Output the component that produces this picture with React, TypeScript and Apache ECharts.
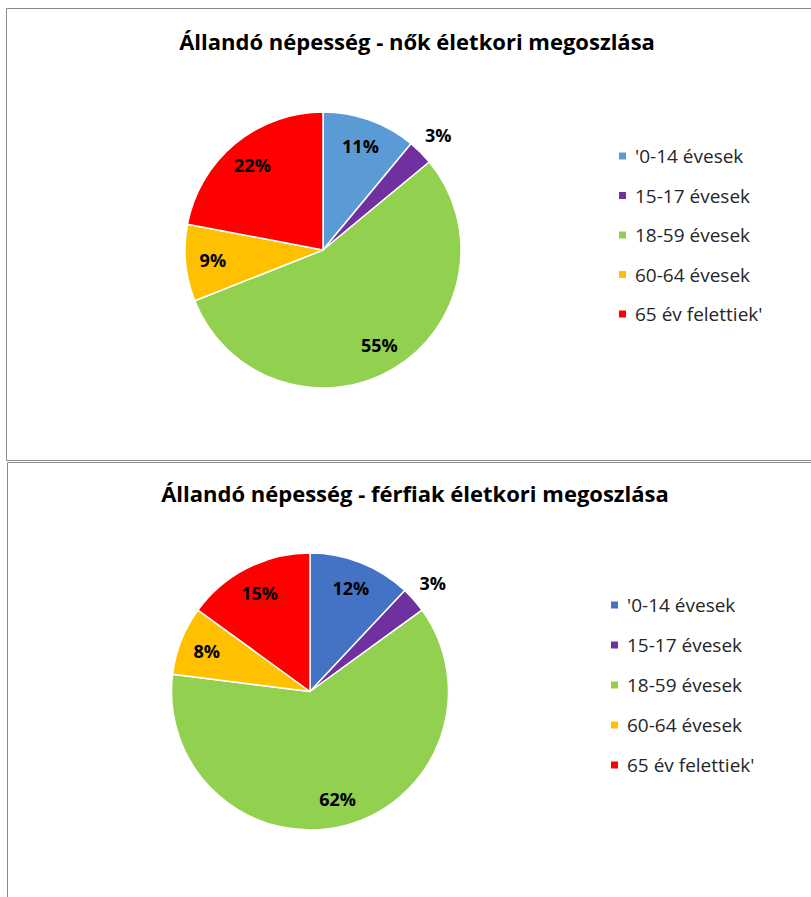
import React, { useEffect, useRef } from "react";
import * as echarts from "echarts";

const categories = ["'0-14 évesek", "15-17 évesek", "18-59 évesek", "60-64 évesek", "65 év felettiek'"];
const womenValues = [11, 3, 55, 9, 22];
const menValues = [12, 3, 62, 8, 15];
const womenTitle = "Állandó népesség - nők életkori megoszlása";
const menTitle = "Állandó népesség - férfiak életkori megoszlása";
const womenColors = ["#5B9BD5", "#7030A0", "#92D050", "#FFC000", "#FF0000"];
const menColors = ["#4472C4", "#7030A0", "#92D050", "#FFC000", "#FF0000"];
const outsideIndex = 1;

const FONT = "'Open Sans', 'Noto Sans', sans-serif";

type Geo = {
  cx: number; cy: number; r: number;
  titleX: number; titleY: number;
  legendX: number; legendY: number; legendGap: number;
  border: { x: number; y: number; w: number; h: number };
};

function makeOption(title: string, values: number[], colors: string[], g: Geo): any {
  const data = categories.map((name, i) => ({ name, value: values[i] }));
  const fmt = (p: any) => Math.round(p.percent) + "%";
  const labelStyle = { color: "#000", fontFamily: FONT, fontWeight: "bold", fontSize: 18 };
  return {
    animation: false,
    color: colors,
    title: {
      text: title,
      left: g.titleX,
      top: g.titleY,
      textAlign: "center",
      padding: 0,
      textStyle: { fontFamily: FONT, fontWeight: "bold", fontSize: 22, color: "#000" },
    },
    legend: {
      orient: "vertical",
      left: g.legendX,
      top: g.legendY,
      padding: 0,
      itemWidth: 9,
      itemHeight: 9,
      itemGap: g.legendGap,
      icon: "rect",
      selectedMode: false,
      data: categories,
      textStyle: { fontFamily: FONT, fontSize: 19, color: "#262626", lineHeight: 20, padding: [0, 0, 0, 3] },
    },
    graphic: [
      {
        type: "rect",
        shape: { x: g.border.x, y: g.border.y, width: g.border.w, height: g.border.h },
        style: { fill: "none", stroke: "#8a8a8a", lineWidth: 1 },
        silent: true,
      },
    ],
    series: [
      {
        type: "pie",
        center: [g.cx, g.cy],
        radius: [0, g.r],
        startAngle: 90,
        clockwise: true,
        silent: true,
        label: { show: false },
        labelLine: { show: false },
        itemStyle: { borderColor: "#fff", borderWidth: 1.5 },
        data: data.map((d, i) => ({ ...d, itemStyle: { color: colors[i] } })),
      },
      {
        type: "pie",
        center: [g.cx, g.cy],
        radius: [g.r * 0.56, g.r],
        startAngle: 90,
        clockwise: true,
        silent: true,
        avoidLabelOverlap: false,
        itemStyle: { color: "rgba(0,0,0,0)" },
        label: { show: true, position: "inside", formatter: fmt, ...labelStyle },
        labelLine: { show: false },
        data: data.map((d, i) => ({ ...d, label: { show: i !== outsideIndex } })),
      },
      {
        type: "pie",
        center: [g.cx, g.cy],
        radius: [g.r * 1.08, g.r * 1.24],
        startAngle: 90,
        clockwise: true,
        silent: true,
        avoidLabelOverlap: false,
        itemStyle: { color: "rgba(0,0,0,0)" },
        label: { show: true, position: "inside", formatter: fmt, ...labelStyle },
        labelLine: { show: false },
        data: data.map((d, i) => ({ ...d, label: { show: i === outsideIndex } })),
      },
    ],
  };
}

const topGeo: Geo = {
  cx: 323, cy: 250, r: 138,
  titleX: 417, titleY: 30,
  legendX: 617, legendY: 146, legendGap: 19.5,
  border: { x: 6.5, y: 8.5, w: 900, h: 452 },
};
const bottomGeo: Geo = {
  cx: 310, cy: 230.5, r: 138.5,
  titleX: 415, titleY: 21,
  legendX: 609, legendY: 134, legendGap: 20,
  border: { x: 7.5, y: 1.5, w: 900, h: 500 },
};

export default function App() {
  const topRef = useRef<HTMLDivElement>(null);
  const bottomRef = useRef<HTMLDivElement>(null);
  useEffect(() => {
    document.body.style.margin = "0";
    const a = echarts.init(topRef.current!, undefined, { renderer: "svg" });
    const b = echarts.init(bottomRef.current!, undefined, { renderer: "svg" });
    a.setOption(makeOption(womenTitle, womenValues, womenColors, topGeo));
    b.setOption(makeOption(menTitle, menValues, menColors, bottomGeo));
    return () => {
      a.dispose();
      b.dispose();
    };
  }, []);
  return (
    <div style={{ position: "relative", width: 811, height: 897, background: "#fff", overflow: "hidden" }}>
      <div ref={topRef} style={{ position: "absolute", left: 0, top: 0, width: 811, height: 461 }} />
      <div ref={bottomRef} style={{ position: "absolute", left: 0, top: 461, width: 811, height: 436 }} />
    </div>
  );
}
